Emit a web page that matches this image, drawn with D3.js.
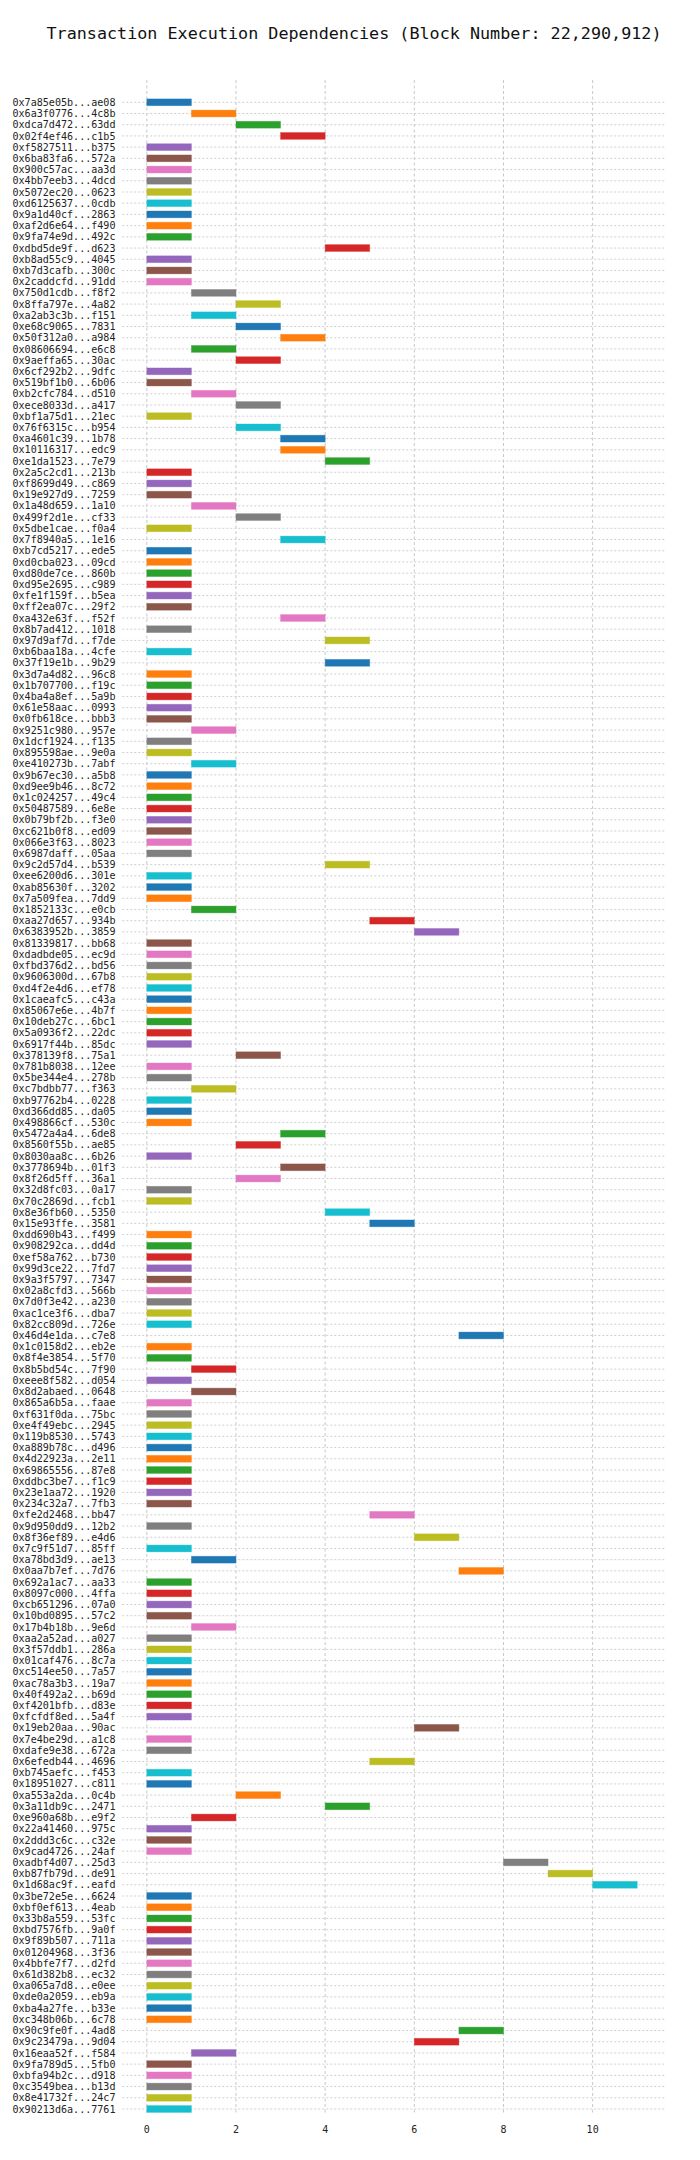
<!DOCTYPE html>
<html>
<head>
<meta charset="utf-8">
<script src="https://cdn.jsdelivr.net/npm/d3@7"></script>
<style>
  html, body { margin: 0; padding: 0; background: #fff; }
  svg { display: block; }
</style>
</head>
<body>
<svg id="chart" width="700" height="2160"></svg>
<script>
const chartTitle = "Transaction Execution Dependencies (Block Number: 22,290,912)";

const txLabels = [
"0x7a85e05b...ae08","0x6a3f0776...4c8b","0xdca7d472...63dd","0x02f4ef46...c1b5","0xf5827511...b375",
"0x6ba83fa6...572a","0x900c57ac...aa3d","0x4bb7eeb3...4dcd","0x5072ec20...0623","0xd6125637...0cdb",
"0x9a1d40cf...2863","0xaf2d6e64...f490","0x9fa74e9d...492c","0xdbd5de9f...d623","0xb8ad55c9...4045",
"0xb7d3cafb...300c","0x2caddcfd...91dd","0x750d1cdb...f8f2","0x8ffa797e...4a82","0xa2ab3c3b...f151",
"0xe68c9065...7831","0x50f312a0...a984","0x08606694...e6c8","0x9aeffa65...30ac","0x6cf292b2...9dfc",
"0x519bf1b0...6b06","0xb2cfc784...d510","0xece8033d...a417","0xbf1a75d1...21ec","0x76f6315c...b954",
"0xa4601c39...1b78","0x10116317...edc9","0xe1da1523...7e79","0x2a5c2cd1...213b","0xf8699d49...c869",
"0x19e927d9...7259","0x1a48d659...1a10","0x499f2d1e...cf33","0x5dbe1cae...f0a4","0x7f8940a5...1e16",
"0xb7cd5217...ede5","0xd0cba023...09cd","0xd80de7ce...860b","0xd95e2695...c989","0xfe1f159f...b5ea",
"0xff2ea07c...29f2","0xa432e63f...f52f","0x8b7ad412...1018","0x97d9af7d...f7de","0xb6baa18a...4cfe",
"0x37f19e1b...9b29","0x3d7a4d82...96c8","0x1b707700...f19c","0x4ba4a8ef...5a9b","0x61e58aac...0993",
"0x0fb618ce...bbb3","0x9251c980...957e","0x1dcf1924...f135","0x895598ae...9e0a","0xe410273b...7abf",
"0x9b67ec30...a5b8","0xd9ee9b46...8c72","0x1c024257...49c4","0x50487589...6e8e","0x0b79bf2b...f3e0",
"0xc621b0f8...ed09","0x066e3f63...8023","0x6987daff...05aa","0x9c2d57d4...b539","0xee6200d6...301e",
"0xab85630f...3202","0x7a509fea...7dd9","0x1852133c...e0cb","0xaa27d657...934b","0x6383952b...3859",
"0x81339817...bb68","0xdadbde05...ec9d","0xfbd376d2...bd56","0x9606300d...67b8","0xd4f2e4d6...ef78",
"0x1caeafc5...c43a","0x85067e6e...4b7f","0x10deb27c...6bc1","0x5a0936f2...22dc","0x6917f44b...85dc",
"0x378139f8...75a1","0x781b8038...12ee","0x5be344e4...278b","0xc7bdbb77...f363","0xb97762b4...0228",
"0xd366dd85...da05","0x498866cf...530c","0x5472a4a4...6de8","0x8560f55b...ae85","0x8030aa8c...6b26",
"0x3778694b...01f3","0x8f26d5ff...36a1","0x32d8fc03...0a17","0x70c2869d...fcb1","0x8e36fb60...5350",
"0x15e93ffe...3581","0xdd690b43...f499","0x908292ca...dd4d","0xef58a762...b730","0x99d3ce22...7fd7",
"0x9a3f5797...7347","0x02a8cfd3...566b","0x7d0f3e42...a230","0xac1ce3f6...dba7","0x82cc809d...726e",
"0x46d4e1da...c7e8","0x1c0158d2...eb2e","0x8f4e3854...5f70","0x8b5bd54c...7f90","0xeee8f582...d054",
"0x8d2abaed...0648","0x865a6b5a...faae","0xf631f0da...75bc","0xe4f49ebc...2945","0x119b8530...5743",
"0xa889b78c...d496","0x4d22923a...2e11","0x69865556...87e8","0xddbc3be7...f1c9","0x23e1aa72...1920",
"0x234c32a7...7fb3","0xfe2d2468...bb47","0x9d950dd9...12b2","0x8f36ef89...e4d6","0x7c9f51d7...85ff",
"0xa78bd3d9...ae13","0x0aa7b7ef...7d76","0x692a1ac7...aa33","0x8097c000...4ffa","0xcb651296...07a0",
"0x10bd0895...57c2","0x17b4b18b...9e6d","0xaa2a52ad...a027","0x3f57ddb1...286a","0x01caf476...8c7a",
"0xc514ee50...7a57","0xac78a3b3...19a7","0x40f492a2...b69d","0xf4201bfb...d83e","0xfcfdf8ed...5a4f",
"0x19eb20aa...90ac","0x7e4be29d...a1c8","0xdafe9e38...672a","0x6efedb44...4696","0xb745aefc...f453",
"0x18951027...c811","0xa553a2da...0c4b","0x3a11db9c...2471","0xe960a68b...e9f2","0x22a41460...975c",
"0x2ddd3c6c...c32e","0x9cad4726...24af","0xadbf4d07...25d3","0xb87fb79d...de91","0x1d68ac9f...eafd",
"0x3be72e5e...6624","0xbf0ef613...4eab","0x33b8a559...53fc","0xbd7576fb...9a0f","0x9f89b507...711a",
"0x01204968...3f36","0x4bbfe7f7...d2fd","0x61d382b8...ec32","0xa065a7d8...e0ee","0xde0a2059...eb9a",
"0xba4a27fe...b33e","0xc348b06b...6c78","0x90c9fe0f...4ad8","0x9c23479a...9d04","0x16eaa52f...f584",
"0x9fa789d5...5fb0","0xbfa94b2c...d918","0xc3549bea...b13d","0x8e41732f...24c7","0x90213d6a...7761"
];

// execution start level of each transaction (bar begins here)
const startLevels = [
0,1,2,3,0, 0,0,0,0,0, 0,0,0,4,0,
0,0,1,2,1, 2,3,1,2,0, 0,1,2,0,2,
3,3,4,0,0, 0,1,2,0,3, 0,0,0,0,0,
0,3,0,4,0, 4,0,0,0,0, 0,1,0,0,1,
0,0,0,0,0, 0,0,0,4,0, 0,0,1,5,6,
0,0,0,0,0, 0,0,0,0,0, 2,0,0,1,0,
0,0,3,2,0, 3,2,0,0,4, 5,0,0,0,0,
0,0,0,0,0, 7,0,0,1,0, 1,0,0,0,0,
0,0,0,0,0, 0,5,0,6,0, 1,7,0,0,0,
0,1,0,0,0, 0,0,0,0,0, 6,0,0,5,0,
0,2,4,1,0, 0,0,8,9,10, 0,0,0,0,0,
0,0,0,0,0, 0,0,7,6,1, 0,0,0,0,0
];
// each transaction occupies one execution slot
const slotWidth = 1;

const xTicks = [0, 2, 4, 6, 8, 10];
const palette = d3.schemeCategory10;

const svg = d3.select("#chart");
const mono = "'DejaVu Sans Mono', 'Liberation Mono', monospace";

const x = d3.scaleLinear().domain([-0.55, 11.65]).range([122.3, 666.2]);
const y = d3.scalePoint()
  .domain(txLabels.map((d, i) => i))
  .range([102.3, 2109]);

// title
svg.append("text")
  .attr("x", 354).attr("y", 38.5)
  .attr("text-anchor", "middle")
  .attr("font-family", mono)
  .attr("font-size", 16.6)
  .attr("fill", "#111")
  .attr("textLength", 615)
  .attr("lengthAdjust", "spacingAndGlyphs")
  .text(chartTitle);

// vertical grid
svg.append("g").selectAll("line").data(xTicks).join("line")
  .attr("x1", d => x(d)).attr("x2", d => x(d))
  .attr("y1", 80).attr("y2", 2115)
  .attr("stroke", "#c8c8c8").attr("stroke-width", 1)
  .attr("stroke-dasharray", "3,2.5");

// row guides
svg.append("g").selectAll("line").data(txLabels).join("line")
  .attr("x1", x.range()[0]).attr("x2", x.range()[1])
  .attr("y1", (d, i) => y(i)).attr("y2", (d, i) => y(i))
  .attr("stroke", "#cfcfcf").attr("stroke-width", 1)
  .attr("stroke-dasharray", "2,2");

// bars
svg.append("g").selectAll("rect").data(startLevels).join("rect")
  .attr("x", d => x(d))
  .attr("width", d => x(d + slotWidth) - x(d))
  .attr("y", (d, i) => y(i) - 3.4)
  .attr("height", 6.8)
  .attr("fill", (d, i) => palette[i % 10])
  .attr("stroke", (d, i) => palette[i % 10])
  .attr("stroke-opacity", 0.45)
  .attr("stroke-width", 0.8);

// y labels
svg.append("g").selectAll("text").data(txLabels).join("text")
  .attr("x", 115.5)
  .attr("y", (d, i) => y(i) + 3.6)
  .attr("text-anchor", "end")
  .attr("font-family", mono)
  .attr("font-size", 10)
  .attr("fill", "#222")
  .attr("textLength", 103)
  .attr("lengthAdjust", "spacingAndGlyphs")
  .text(d => d);

// x tick labels
svg.append("g").selectAll("text").data(xTicks).join("text")
  .attr("x", d => x(d))
  .attr("y", 2133)
  .attr("text-anchor", "middle")
  .attr("font-family", mono)
  .attr("font-size", 10)
  .attr("fill", "#222")
  .text(d => d);
</script>
</body>
</html>
